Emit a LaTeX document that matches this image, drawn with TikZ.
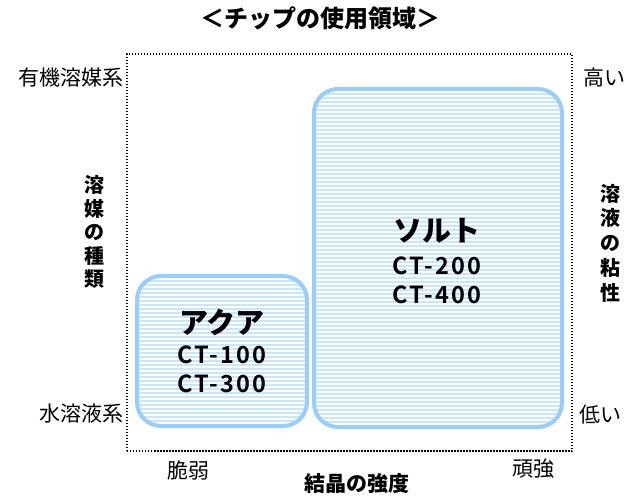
\documentclass[tikz,border=0pt]{standalone}
\usepackage{fontspec}
\setmainfont{Noto Sans CJK JP}
\newfontfamily\ctfont{Noto Sans CJK JP Bold}[LetterSpace=9]
\newfontfamily\heavyfont{Noto Sans CJK JP Black}
\definecolor{boxline}{HTML}{99CCFF}
\definecolor{boxfill}{HTML}{C8E6FF}
\tikzset{
  zone/.style={draw=boxline, line width=4bp, fill=boxfill, rounded corners=24bp, inner sep=0pt,
    path picture={\foreach \i in {1,...,100}{\draw[white, line width=1.2bp]
      ([yshift=-\i*4bp+1bp]path picture bounding box.north west) --
      ([yshift=-\i*4bp+1bp]path picture bounding box.north east);}}},
  frame/.style={draw=black, line width=1.5bp, dash pattern=on 1.5bp off 1.5bp, inner sep=0pt},
  lbl/.style={font=\fontsize{21bp}{25bp}\selectfont, inner sep=0pt},
  axis/.style={font=\fontsize{20bp}{23.5bp}\selectfont\bfseries, inner sep=0pt, align=center},
  zonetitle/.style={font=\fontsize{29bp}{32bp}\heavyfont, inner sep=0pt},
  zonecode/.style={font=\fontsize{23.5bp}{26bp}\ctfont, inner sep=0pt},
  title/.style={font=\fontsize{24bp}{28bp}\selectfont\bfseries, inner sep=0pt}
}
\begin{document}
\begin{tikzpicture}[x=1bp, y=-1bp]
\useasboundingbox (0,0) rectangle (640,497);
\node[title] (ttl) at (320,18) {＜チップの使用領域＞};
\node[frame, minimum width=445bp, minimum height=397bp] (frm) at (349.5,252.5) {};
\node[zone, minimum width=170bp, minimum height=150bp] (aqua) at (222,351) {};
\node[zone, minimum width=248bp, minimum height=338bp] (salt) at (438,258) {};
\node[zonetitle] (aquaT) at (222,322) {アクア};
\node[zonecode] (aqua1) at (222,355) {CT-100};
\node[zonecode] (aqua2) at (222,383.5) {CT-300};
\node[zonetitle] (saltT) at (437,231) {ソルト};
\node[zonecode] (salt1) at (437,266) {CT-200};
\node[zonecode] (salt2) at (437,295) {CT-400};
\node[lbl, anchor=east] (org) at (124,78) {有機溶媒系};
\node[lbl, anchor=east] (aq) at (124,414) {水溶液系};
\node[lbl] (hi) at (604,78) {高い};
\node[lbl] (lo) at (600,415) {低い};
\node[lbl] (weak) at (188,470) {脆弱};
\node[lbl] (strong) at (533,469) {頑強};
\node[axis] (solv) at (94,232) {溶\\媒\\の\\種\\類};
\node[axis, font=\fontsize{20bp}{24.7bp}\selectfont\bfseries] (visc) at (610,243) {溶\\液\\の\\粘\\性};
\node[axis, font=\fontsize{21bp}{24bp}\selectfont\bfseries] (cry) at (357,484) {結晶の強度};
\end{tikzpicture}
\end{document}
